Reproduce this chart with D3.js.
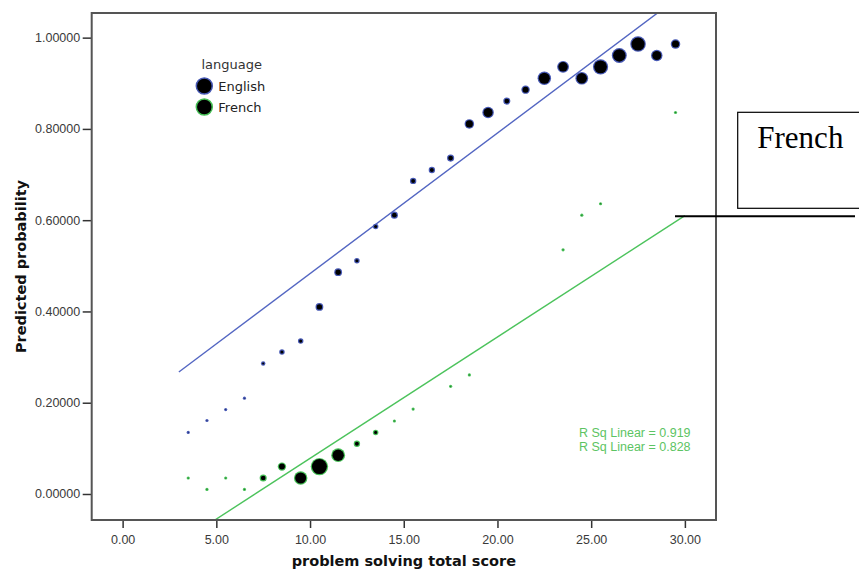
<!DOCTYPE html>
<html>
<head>
<meta charset="utf-8">
<script src="https://cdn.jsdelivr.net/npm/d3@7"></script>
<style>
  body { margin: 0; background: #fff; }
  svg { display: block; }
</style>
</head>
<body>
<div id="chart"></div>
<script>
// English group: score, predicted probability, number of cases (marker size)
const englishScore = [3.5, 4.5, 5.5, 6.5, 7.5, 8.5, 9.5, 10.5, 11.5, 12.5, 13.5, 14.5, 15.5, 16.5,
                      17.5, 18.5, 19.5, 20.5, 21.5, 22.5, 23.5, 24.5, 25.5, 26.5, 27.5, 28.5, 29.5];
const englishProb = [0.135, 0.161, 0.185, 0.210, 0.286, 0.311, 0.335, 0.410, 0.486, 0.511, 0.586, 0.611, 0.686, 0.710,
                     0.736, 0.811, 0.836, 0.861, 0.886, 0.911, 0.936, 0.911, 0.936, 0.961, 0.986, 0.961, 0.986];
const englishCount = [1, 1, 1, 1, 2, 3, 3, 6, 6, 3, 3, 5, 4, 4,
                      5, 9, 13, 5, 7, 18, 14, 16, 23, 22, 24, 13, 9];

// French group
const frenchScore = [3.5, 4.5, 5.5, 6.5, 7.5, 8.5, 9.5, 10.5, 11.5, 12.5, 13.5, 14.5, 15.5,
                     17.5, 18.5, 23.5, 24.5, 25.5, 29.5];
const frenchProb = [0.035, 0.010, 0.035, 0.010, 0.035, 0.060, 0.035, 0.060, 0.085, 0.110, 0.135, 0.160, 0.186,
                    0.236, 0.261, 0.535, 0.611, 0.636, 0.836];
const frenchCount = [1, 1, 1, 1, 5, 7, 18, 30, 19, 4, 3, 1, 1,
                     1, 1, 1, 1, 1, 1];

// linear fit lines (English, French)
const fitIntercept = [0.175, -0.188];
const fitSlope = [0.0308, 0.0266];
const fitFrom = 3;
const fitTo = 30;
const rSqLabels = ["R Sq Linear = 0.919", "R Sq Linear = 0.828"];

const languages = ["English", "French"];
const xTickValues = [0, 5, 10, 15, 20, 25, 30];
const yTickValues = [0, 0.2, 0.4, 0.6, 0.8, 1.0];

const W = 859, H = 571;
const margin = { top: 13, right: 143, bottom: 51, left: 91.7 };
const width = W - margin.left - margin.right,
      height = H - margin.top - margin.bottom;

const blue = "#4658b4", green = "#45bf55";
const colors = [blue, green];

const svg = d3.select("#chart").append("svg")
  .attr("width", W)
  .attr("height", H);

const g = svg.append("g")
  .attr("transform", `translate(${margin.left},${margin.top})`);

const x = d3.scaleLinear().domain([-1.65, 31.66]).range([0, width]);
const y = d3.scaleLinear().domain([-0.057, 1.054]).range([height, 0]);
const r = d3.scaleSqrt().domain([0, 30]).range([0, 8.7]);

g.append("clipPath").attr("id", "plot-clip")
  .append("rect").attr("width", width).attr("height", height);

// Y axis
const yAxis = g.append("g")
  .call(d3.axisLeft(y).tickValues(yTickValues).tickFormat(d3.format(".5f")).tickSize(9).tickPadding(2.5));
yAxis.select(".domain").remove();
yAxis.selectAll("line").attr("stroke", "#333").attr("stroke-width", 1.5);
yAxis.selectAll("text")
  .style("font-family", "'Liberation Sans', Arial, sans-serif")
  .style("font-size", "12.5px")
  .attr("fill", "#3a3a3a");

// X axis
const xAxis = g.append("g")
  .attr("transform", `translate(0,${height})`)
  .call(d3.axisBottom(x).tickValues(xTickValues).tickFormat(d3.format(".2f")).tickSize(8).tickPadding(7.5));
xAxis.select(".domain").remove();
xAxis.selectAll("line").attr("stroke", "#333").attr("stroke-width", 1.5);
xAxis.selectAll("text")
  .style("font-family", "'Liberation Sans', Arial, sans-serif")
  .style("font-size", "12.5px")
  .attr("fill", "#3a3a3a");

// axis titles
g.append("text")
  .attr("x", width / 2)
  .attr("y", height + 46)
  .attr("text-anchor", "middle")
  .style("font-family", "'DejaVu Sans', sans-serif")
  .style("font-weight", "bold")
  .style("font-size", "14.5px")
  .attr("fill", "#111")
  .text("problem solving total score");

g.append("text")
  .attr("transform", `translate(${26 - margin.left},${height / 2}) rotate(-90)`)
  .attr("text-anchor", "middle")
  .style("font-family", "'DejaVu Sans', sans-serif")
  .style("font-weight", "bold")
  .style("font-size", "14.5px")
  .attr("fill", "#111")
  .text("Predicted probability");

const plot = g.append("g").attr("clip-path", "url(#plot-clip)");

// fit lines
languages.forEach((lang, i) => {
  const pts = [fitFrom, fitTo].map(s => [x(s), y(fitIntercept[i] + fitSlope[i] * s)]);
  plot.append("path")
    .attr("d", d3.line()(pts))
    .attr("fill", "none")
    .attr("stroke", i === 0 ? "#5366c2" : "#4cc35c")
    .attr("stroke-width", 1.4);
});

// markers
const groups = [
  englishScore.map((s, i) => ({ s, p: englishProb[i], n: englishCount[i] })),
  frenchScore.map((s, i) => ({ s, p: frenchProb[i], n: frenchCount[i] }))
];
groups.forEach((data, gi) => {
  const mk = plot.append("g").selectAll("g")
    .data(data)
    .join("g")
    .attr("transform", d => `translate(${x(d.s)},${y(d.p)})`);
  mk.append("circle")
    .attr("r", d => r(d.n))
    .attr("fill", colors[gi]);
  mk.append("circle")
    .attr("r", d => Math.max(0, r(d.n) - 1.2))
    .attr("fill", "#000");
});

// R sq labels
rSqLabels.forEach((t, i) => {
  g.append("text")
    .attr("x", 579 - margin.left)
    .attr("y", 436.5 - margin.top + i * 14.3)
    .style("font-family", "'Liberation Sans', Arial, sans-serif")
    .style("font-size", "12.5px")
    .attr("fill", "#5cc463")
    .text(t);
});

// frame
g.append("rect")
  .attr("width", width)
  .attr("height", height)
  .attr("fill", "none")
  .attr("stroke", "#555")
  .attr("stroke-width", 2);

// legend
const legend = svg.append("g").attr("transform", "translate(204.3,0)");
legend.append("text")
  .attr("x", 27.4).attr("y", 69)
  .attr("text-anchor", "middle")
  .style("font-family", "'DejaVu Sans', sans-serif")
  .style("font-size", "13px")
  .attr("fill", "#333")
  .text("language");
languages.forEach((lang, i) => {
  const row = legend.append("g").attr("transform", `translate(0,${86 + i * 21})`);
  row.append("circle").attr("r", 8).attr("fill", "#000")
    .attr("stroke", colors[i]).attr("stroke-width", 1.5);
  row.append("text")
    .attr("x", 14).attr("y", 4.8)
    .style("font-family", "'DejaVu Sans', sans-serif")
    .style("font-size", "13px")
    .attr("fill", "#222")
    .text(lang);
});

// pasted annotation box over the chart
svg.append("rect")
  .attr("x", 737.7).attr("y", 112.3)
  .attr("width", 140).attr("height", 96)
  .attr("fill", "#fff")
  .attr("stroke", "#000")
  .attr("stroke-width", 1.2);
svg.append("text")
  .attr("x", 757.3).attr("y", 148.3)
  .style("font-family", "'Liberation Serif', 'Times New Roman', serif")
  .style("font-size", "31px")
  .attr("fill", "#000")
  .text("French");
svg.append("line")
  .attr("x1", 675).attr("x2", 855)
  .attr("y1", 216.3).attr("y2", 216.3)
  .attr("stroke", "#000")
  .attr("stroke-width", 2);
</script>
</body>
</html>
